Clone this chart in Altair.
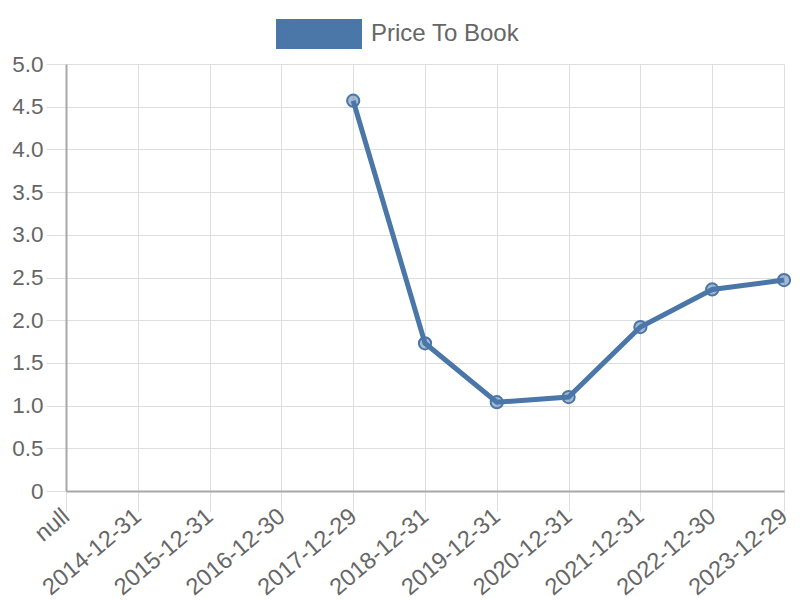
import altair as alt
import pandas as pd

categories = ["null", "2014-12-31", "2015-12-31", "2016-12-30", "2017-12-29",
              "2018-12-31", "2019-12-31", "2020-12-31", "2021-12-31",
              "2022-12-30", "2023-12-29"]
values = [None, None, None, None, 4.57, 1.73, 1.04, 1.10, 1.92, 2.36, 2.47]
series_name = "Price To Book"
y_ticks = [0, 0.5, 1.0, 1.5, 2.0, 2.5, 3.0, 3.5, 4.0, 4.5, 5.0]

COLOR = "#4a76a8"
FONT = "Liberation Sans"

df = pd.DataFrame({"date": categories, "value": values, "series": series_name})

x_enc = alt.X("date:N", sort=categories,
              scale=alt.Scale(domain=categories, type="point", padding=0),
              axis=alt.Axis(title=None, labelAngle=-40, labelAlign="right",
                            labelBaseline="middle", tickSize=20, labelPadding=2,
                            labelFontSize=23.5, labelColor="#666666", labelFont=FONT,
                            grid=True, gridColor="#dedede", tickColor="#dedede",
                            domainColor="#a8a8a8", domainWidth=2, labelOverlap=False))
y_enc = alt.Y("value:Q",
              scale=alt.Scale(domain=[0, 5], nice=False),
              axis=alt.Axis(title=None, values=y_ticks, tickSize=20, labelPadding=3,
                            labelExpr="datum.value == 0 ? '0' : format(datum.value, '.1f')",
                            labelFontSize=22.5, labelColor="#666666", labelFont=FONT,
                            grid=True, gridColor="#dedede", tickColor="#dedede",
                            domainColor="#a8a8a8", domainWidth=2))

base = alt.Chart(df).transform_filter("datum.value != null")

line = base.mark_line(strokeWidth=5).encode(
    x=x_enc, y=y_enc,
    color=alt.Color("series:N", scale=alt.Scale(domain=[series_name], range=[COLOR]),
                    legend=alt.Legend(title=None, orient="none", legendX=210, legendY=-73,
                                      symbolType="M-1,-0.35H1V0.35H-1Z", symbolSize=7396,
                                      symbolFillColor=COLOR, symbolStrokeColor=COLOR,
                                      symbolStrokeWidth=0, symbolOpacity=1,
                                      labelFontSize=24, labelColor="#666666", labelFont=FONT,
                                      labelOffset=9))
)

points = base.mark_point(filled=True, size=150, fill=COLOR, fillOpacity=0.5,
                         stroke=COLOR, strokeWidth=2, opacity=1).encode(x=x_enc, y=y_enc)

chart = alt.layer(line, points).properties(
    width=718, height=427,
    padding={"left": 58, "top": 56, "right": 8, "bottom": 112},
    autosize=alt.AutoSizeParams(type="none"),
).configure_view(stroke=None)

chart.save("out.html", embed_options={"renderer": "svg", "actions": False})
